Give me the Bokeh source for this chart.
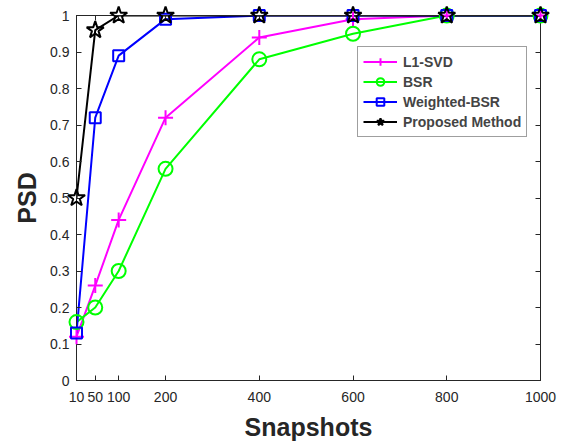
from bokeh.plotting import figure
from bokeh.models import (FixedTicker, LinearAxis, Range1d, NumeralTickFormatter, Legend,
                          LegendItem, CustomJSTickFormatter)
from bokeh.embed import file_html
from bokeh.resources import INLINE

snapshots = [10, 50, 100, 200, 400, 600, 800, 1000]
l1svd = [0.12, 0.26, 0.44, 0.72, 0.94, 0.99, 1.0, 1.0]
bsr = [0.16, 0.20, 0.30, 0.58, 0.88, 0.95, 1.0, 1.0]
wbsr = [0.13, 0.72, 0.89, 0.99, 1.0, 1.0, 1.0, 1.0]
proposed = [0.50, 0.96, 1.0, 1.0, 1.0, 1.0, 1.0, 1.0]
yticks = [0, 0.1, 0.2, 0.3, 0.4, 0.5, 0.6, 0.7, 0.8, 0.9, 1.0]

FONT = "Liberation Sans"
AX = "#262626"

p = figure(width=558, height=443, output_backend="svg", toolbar_location=None,
           x_range=Range1d(10, 1000), y_range=Range1d(0, 1),
           min_border_left=76, min_border_right=18, min_border_top=15, min_border_bottom=63)
p.grid.visible = False
p.outline_line_color = AX
p.background_fill_color = "white"

def style_axis(ax):
    ax.major_tick_in = 5
    ax.major_tick_out = 0
    ax.minor_tick_line_color = None
    ax.axis_line_color = AX
    ax.major_tick_line_color = AX
    ax.major_label_text_font = FONT
    ax.major_label_text_font_size = "14px"
    ax.major_label_text_color = AX
    ax.axis_label_text_font = FONT
    ax.axis_label_text_font_style = "bold"
    ax.axis_label_text_font_size = "25px"
    ax.axis_label_text_color = AX

p.xaxis.ticker = FixedTicker(ticks=snapshots)
p.yaxis.ticker = FixedTicker(ticks=yticks)
p.yaxis.formatter = NumeralTickFormatter(format="0.[0]")
p.xaxis.axis_label = "Snapshots"
p.yaxis.axis_label = "PSD"
style_axis(p.xaxis[0])
style_axis(p.yaxis[0])
p.xaxis.major_label_standoff = 11
p.yaxis.major_label_standoff = 7
p.xaxis.axis_label_standoff = 8
p.yaxis.axis_label_standoff = 6

blank = CustomJSTickFormatter(code="return ''")
top = LinearAxis(ticker=FixedTicker(ticks=snapshots), formatter=blank)
style_axis(top)
top.major_label_standoff = 0
p.add_layout(top, "above")
right = LinearAxis(ticker=FixedTicker(ticks=yticks), formatter=blank)
style_axis(right)
right.major_label_standoff = 0
p.add_layout(right, "right")

items = []
lw = 2
r1 = p.line(snapshots, l1svd, line_color="#FF00FF", line_width=lw)
m1 = p.scatter(snapshots, l1svd, marker="cross", size=15, line_color="#FF00FF", line_width=lw, level="overlay")
items.append(LegendItem(label="L1-SVD", renderers=[r1, m1]))
r2 = p.line(snapshots, bsr, line_color="#00FF00", line_width=lw)
m2 = p.scatter(snapshots, bsr, marker="circle", size=14, line_color="#00FF00", fill_color=None, line_width=lw, level="overlay")
items.append(LegendItem(label="BSR", renderers=[r2, m2]))
r3 = p.line(snapshots, wbsr, line_color="#0000FF", line_width=lw)
m3 = p.scatter(snapshots, wbsr, marker="square", size=11, line_color="#0000FF", fill_color=None, line_width=lw, level="overlay")
items.append(LegendItem(label="Weighted-BSR", renderers=[r3, m3]))
r4 = p.line(snapshots, proposed, line_color="black", line_width=lw)
m4 = p.scatter(snapshots, proposed, marker="star", size=18, line_color="black", fill_color=None, line_width=lw, level="overlay")
items.append(LegendItem(label="Proposed Method", renderers=[r4, m4]))

legend = Legend(items=items, location=(281, 243))
legend.label_text_font = FONT
legend.label_text_font_style = "bold"
legend.label_text_font_size = "14px"
legend.glyph_width = 34
legend.glyph_height = 19
legend.label_height = 19
legend.spacing = 1
legend.padding = 5
legend.margin = 0
legend.label_standoff = 6
legend.border_line_color = "#404040"
legend.border_line_width = 1
p.add_layout(legend)

open("out.html", "w").write(file_html(p, INLINE))
